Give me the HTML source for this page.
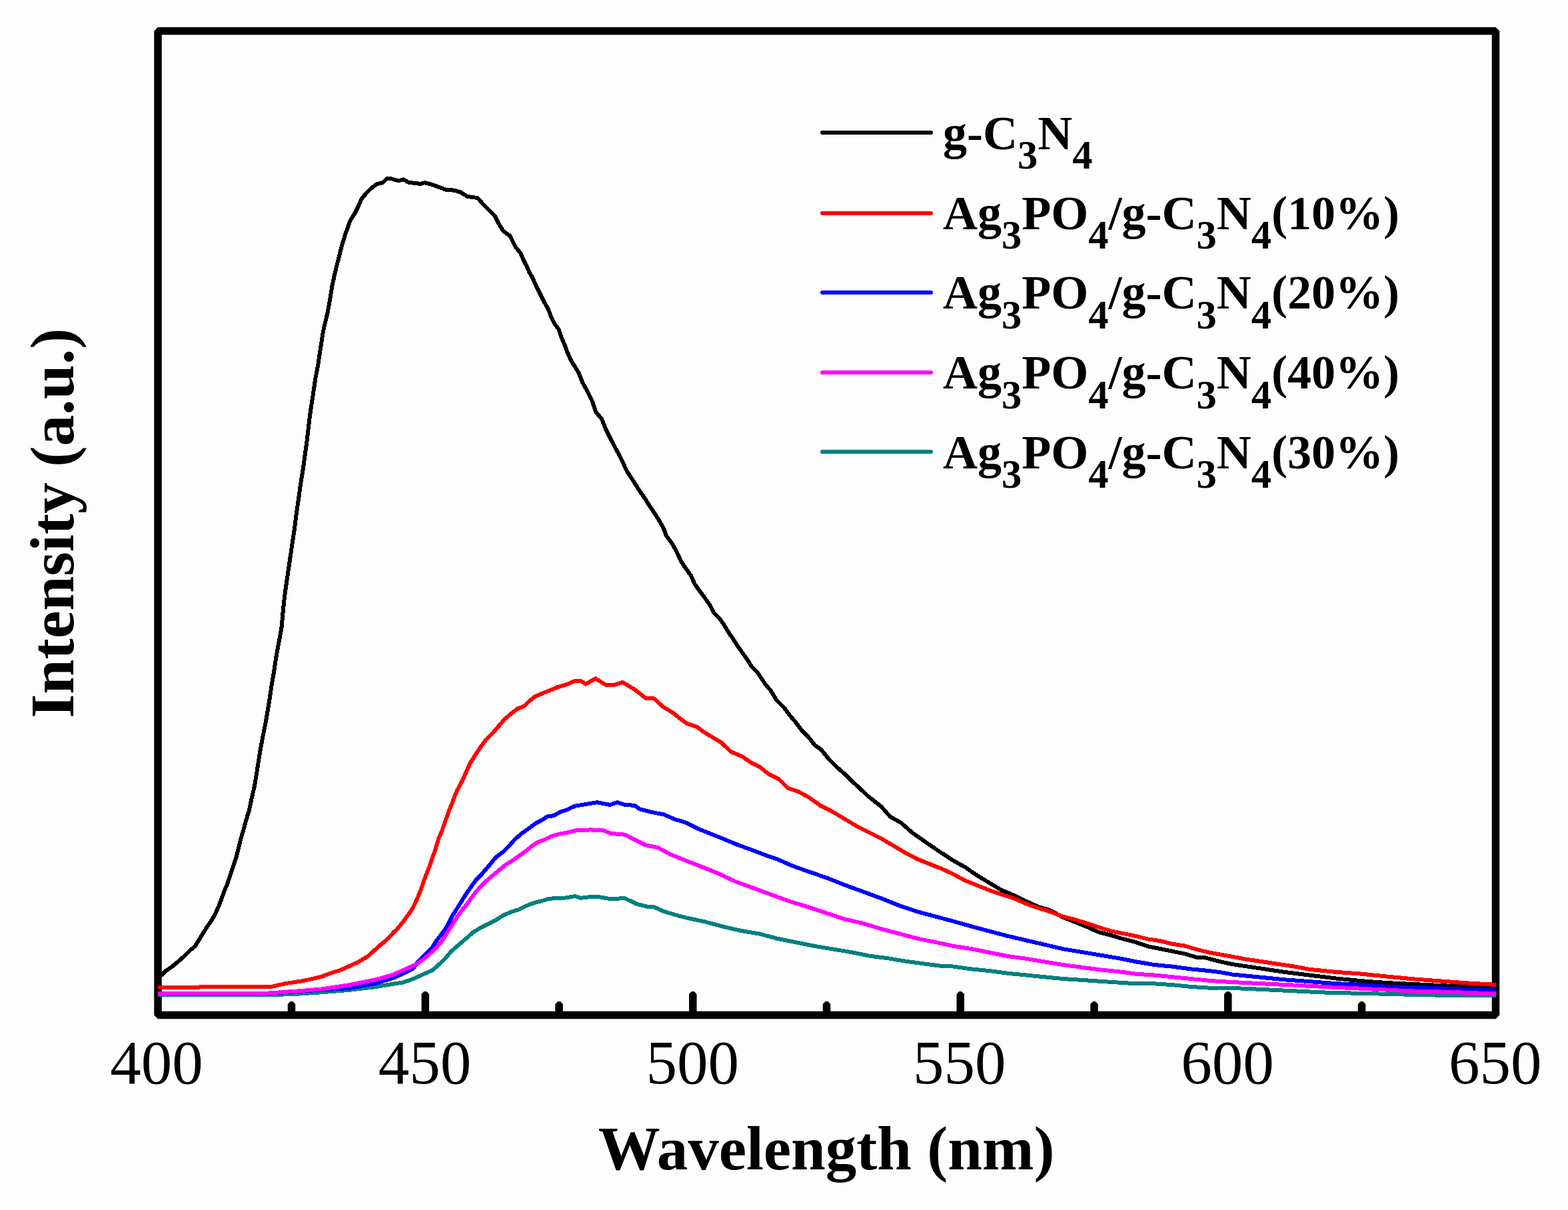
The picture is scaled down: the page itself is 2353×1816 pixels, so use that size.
<!DOCTYPE html>
<html><head><meta charset="utf-8"><title>PL spectra</title>
<style>
html,body{margin:0;padding:0;background:#fdfdfd;}
body{width:2353px;height:1816px;overflow:hidden;}
svg{display:block;}
text{font-family:"Liberation Serif","Times New Roman",serif;fill:#000;}
.b{font-weight:bold;}
</style></head><body>
<svg width="2353" height="1816" viewBox="0 0 2353 1816">
<rect x="0" y="0" width="2353" height="1816" fill="#fdfdfd"/>

<rect x="237" y="46.5" width="2007.5" height="1477" fill="none" stroke="#000" stroke-width="11.5" stroke-linejoin="bevel"/>
<g fill="#000"><polygon points="431.75,1520 431.75,1507 435.50,1503 439.50,1503 443.25,1507 443.25,1520"/><polygon points="632.50,1520 632.50,1492 636.25,1488 640.25,1488 644.00,1492 644.00,1520"/><polygon points="833.25,1520 833.25,1507 837.00,1503 841.00,1503 844.75,1507 844.75,1520"/><polygon points="1034.00,1520 1034.00,1492 1037.75,1488 1041.75,1488 1045.50,1492 1045.50,1520"/><polygon points="1234.75,1520 1234.75,1507 1238.50,1503 1242.50,1503 1246.25,1507 1246.25,1520"/><polygon points="1435.50,1520 1435.50,1492 1439.25,1488 1443.25,1488 1447.00,1492 1447.00,1520"/><polygon points="1636.25,1520 1636.25,1507 1640.00,1503 1644.00,1503 1647.75,1507 1647.75,1520"/><polygon points="1837.00,1520 1837.00,1492 1840.75,1488 1844.75,1488 1848.50,1492 1848.50,1520"/><polygon points="2037.75,1520 2037.75,1507 2041.50,1503 2045.50,1503 2049.25,1507 2049.25,1520"/></g>
<g fill="none" stroke-width="6" stroke-linejoin="round" stroke-linecap="butt" shape-rendering="crispEdges">
<polyline stroke="#000000" points="237.0,1467.0 243.3,1463.0 248.3,1457.5 257.5,1451.1 266.6,1443.8 275.8,1435.6 285.0,1426.4 292.8,1420.1 302.8,1403.6 309.9,1392.2 317.0,1382.2 322.7,1372.3 328.4,1359.4 332.7,1348.0 336.9,1336.6 341.2,1326.7 345.5,1313.9 349.7,1301.0 354.0,1288.2 357.6,1274.0 361.1,1259.7 365.4,1245.5 369.7,1229.8 374.0,1215.6 377.5,1198.5 381.9,1180.1 386.2,1153.6 389.8,1130.8 393.3,1110.9 396.2,1096.6 399.0,1082.4 401.9,1065.3 404.7,1048.2 407.6,1028.3 411.1,1008.4 414.0,988.4 417.6,968.5 421.1,950.0 422.7,940.1 424.8,916.5 426.9,896.5 429.8,875.2 432.6,856.6 435.5,836.7 437.6,822.5 439.7,808.2 441.9,794.0 444.0,776.9 446.2,761.2 448.3,747.0 450.0,734.2 451.9,721.4 454.7,704.3 457.7,682.2 460.5,662.2 462.7,643.7 464.8,625.2 466.9,611.0 469.1,596.7 471.2,582.5 473.3,568.2 475.5,556.8 477.6,545.4 479.7,531.2 481.9,517.0 484.0,502.7 486.2,491.3 488.5,482.0 491.3,470.7 494.9,450.8 498.4,429.4 502.0,412.3 505.5,398.1 508.4,386.7 511.2,375.3 514.8,362.5 518.4,351.1 521.9,341.1 525.5,331.2 531.9,321.2 537.6,309.8 542.6,298.4 549.7,289.9 556.8,282.8 565.4,276.3 573.9,274.2 581.0,267.8 588.1,268.5 598.1,271.4 605.2,269.2 613.8,274.2 625.2,274.9 630.0,276.3 637.1,274.2 648.5,277.1 659.9,281.3 669.8,284.9 681.2,285.6 691.2,288.5 701.2,294.9 716.8,297.0 725.4,307.0 733.9,315.5 742.5,324.1 748.2,335.4 755.3,346.8 765.3,354.0 773.8,371.0 781.0,379.6 786.6,392.4 790.7,400.0 794.2,408.5 799.9,418.5 804.9,429.9 810.6,441.3 816.3,452.7 822.7,464.1 827.0,475.5 832.7,486.9 838.4,494.0 842.7,506.8 847.6,518.2 851.2,528.2 856.9,541.0 863.3,551.0 868.5,560.0 874.2,574.2 881.4,587.1 888.5,601.3 894.2,618.4 902.7,628.4 908.4,642.6 915.5,656.8 922.7,671.1 928.4,681.0 934.0,692.4 939.7,705.3 946.9,716.6 952.6,725.2 959.7,736.6 966.8,746.6 974.0,758.0 982.5,770.8 988.5,780.0 995.7,792.8 999.9,804.2 1008.5,815.6 1015.6,828.4 1022.0,842.7 1029.8,854.0 1037.0,864.0 1042.7,876.8 1049.8,886.8 1058.3,898.2 1065.4,908.2 1071.1,919.6 1079.7,928.1 1086.8,938.1 1092.5,948.0 1099.6,958.0 1106.7,969.4 1113.9,979.4 1121.0,989.3 1128.1,1000.7 1136.7,1009.3 1148.5,1027.0 1157.1,1037.0 1165.6,1051.2 1177.0,1062.6 1185.5,1074.0 1194.1,1084.0 1202.6,1095.4 1212.6,1105.4 1222.6,1118.2 1232.5,1125.3 1243.9,1139.5 1255.3,1150.9 1266.7,1160.9 1278.1,1172.3 1289.5,1182.3 1300.9,1193.6 1304.7,1196.5 1323.0,1211.1 1335.9,1225.8 1352.3,1234.9 1368.8,1249.6 1387.1,1262.4 1405.5,1275.2 1430.0,1291.3 1448.3,1301.4 1466.6,1314.2 1484.9,1325.2 1503.3,1336.2 1521.6,1343.6 1539.9,1352.7 1558.2,1361.0 1576.5,1366.4 1594.8,1376.5 1613.2,1383.8 1631.5,1391.2 1649.8,1399.4 1668.1,1404.0 1686.4,1409.5 1704.7,1414.1 1723.0,1420.5 1741.4,1424.1 1759.7,1427.8 1778.0,1431.5 1796.3,1437.0 1807.3,1437.0 1830.0,1443.0 1849.2,1447.1 1887.7,1452.9 1926.2,1458.7 1964.6,1463.5 2003.1,1468.3 2041.5,1472.1 2080.0,1475.0 2118.5,1476.9 2156.9,1478.8 2195.4,1480.8 2245.0,1483.1"/>
<polyline stroke="#ff0000" points="237.0,1482.2 297.0,1482.2 300.0,1481.2 407.0,1481.0 427.5,1476.2 454.9,1472.1 482.4,1465.9 496.4,1460.5 509.9,1456.3 523.0,1450.5 537.4,1444.0 552.4,1434.9 558.9,1429.0 564.8,1423.6 570.8,1418.3 577.3,1413.0 583.2,1407.6 589.7,1400.5 596.3,1394.0 602.2,1386.9 608.1,1379.1 614.1,1370.8 618.8,1363.7 623.0,1355.4 627.1,1346.5 631.4,1335.4 634.4,1327.1 636.8,1320.0 639.7,1312.3 642.7,1304.6 645.7,1297.4 648.0,1290.3 650.4,1283.2 652.8,1276.7 654.6,1270.2 656.9,1263.0 658.7,1257.1 662.5,1249.0 665.5,1240.1 668.5,1231.2 672.0,1222.3 675.0,1213.4 678.6,1205.1 682.1,1195.6 685.7,1186.7 690.4,1177.8 694.6,1170.1 698.1,1161.8 705.6,1145.3 712.8,1133.9 721.3,1121.0 729.8,1109.7 739.8,1099.7 748.4,1089.7 756.9,1079.7 766.9,1071.2 776.8,1063.4 786.8,1059.8 793.9,1052.7 802.5,1045.6 812.4,1041.3 826.7,1035.6 836.6,1031.3 850.9,1027.1 862.6,1022.0 871.8,1022.0 879.1,1026.6 893.7,1018.3 908.4,1027.5 921.2,1028.4 934.0,1023.8 952.3,1034.8 968.8,1047.6 981.6,1048.5 994.5,1060.4 1010.9,1070.5 1020.4,1078.3 1030.9,1086.1 1046.5,1091.3 1057.0,1099.2 1070.0,1107.0 1083.0,1114.8 1096.1,1127.8 1114.4,1135.7 1127.4,1144.8 1140.4,1151.3 1153.5,1161.8 1169.1,1169.6 1182.2,1182.6 1197.8,1187.9 1213.5,1196.5 1231.5,1209.3 1249.8,1218.5 1268.1,1229.5 1286.4,1240.4 1304.7,1249.6 1323.0,1258.8 1341.4,1269.7 1359.7,1280.7 1378.0,1289.9 1396.3,1297.2 1414.6,1304.5 1430.0,1311.7 1448.3,1321.6 1466.6,1328.9 1484.9,1336.2 1503.3,1342.6 1521.6,1348.1 1539.9,1356.4 1558.2,1362.8 1576.5,1368.3 1594.8,1375.6 1613.2,1380.2 1631.5,1385.7 1649.8,1392.1 1668.1,1397.6 1686.4,1401.2 1704.7,1404.9 1723.0,1409.5 1741.4,1412.2 1759.7,1416.8 1778.0,1419.6 1796.3,1425.1 1814.6,1429.6 1830.0,1432.3 1868.5,1439.4 1906.9,1445.2 1945.4,1451.0 1964.6,1454.8 2003.1,1458.7 2041.5,1461.5 2080.0,1465.4 2118.5,1469.2 2156.9,1472.1 2195.4,1475.0 2245.0,1477.9"/>
<polyline stroke="#008080" points="237.0,1493.5 400.0,1493.3 441.2,1492.0 482.4,1489.3 523.6,1485.9 564.8,1481.0 590.0,1476.7 604.7,1474.5 619.3,1469.4 634.0,1462.8 648.6,1456.2 655.9,1450.3 663.3,1443.0 670.6,1435.7 677.1,1427.9 688.5,1417.9 698.5,1409.4 709.9,1399.4 721.3,1392.3 732.7,1386.6 744.1,1380.9 755.4,1373.7 766.8,1368.7 778.2,1365.2 789.6,1359.5 801.0,1355.2 812.4,1352.3 823.8,1348.8 835.2,1348.1 850.0,1347.4 862.6,1345.0 871.8,1347.8 886.4,1345.9 897.4,1345.9 915.7,1349.2 937.7,1348.1 956.0,1356.9 970.7,1360.6 981.6,1361.5 996.3,1367.9 1014.6,1373.4 1030.0,1377.5 1057.5,1383.3 1084.9,1390.6 1112.4,1397.0 1139.9,1401.6 1167.4,1408.9 1194.8,1414.4 1222.3,1419.9 1249.8,1424.5 1277.3,1429.1 1304.7,1434.6 1332.2,1438.2 1359.7,1442.8 1387.1,1446.5 1414.6,1450.1 1430.0,1450.5 1457.5,1454.4 1484.9,1457.1 1512.4,1460.8 1539.9,1463.5 1567.4,1466.3 1594.8,1469.0 1622.3,1470.8 1649.8,1472.7 1677.3,1474.5 1704.7,1476.3 1732.2,1476.3 1759.7,1478.2 1787.1,1480.9 1814.6,1482.7 1830.0,1482.5 1868.5,1483.7 1906.9,1485.6 1945.4,1487.5 1983.8,1489.4 2022.3,1490.4 2060.8,1491.3 2099.2,1492.3 2137.7,1493.3 2176.2,1493.8 2214.6,1494.2 2245.0,1494.2"/>
<polyline stroke="#0000ff" points="237.0,1491.5 400.0,1491.0 441.0,1488.5 482.4,1485.5 523.6,1483.1 564.8,1475.5 590.0,1467.9 604.7,1461.3 619.3,1454.0 623.0,1449.5 626.6,1443.8 634.0,1437.1 641.3,1429.8 648.6,1421.8 655.9,1410.8 663.3,1401.2 671.4,1389.4 678.5,1375.1 685.7,1363.7 692.8,1352.3 699.9,1341.0 707.0,1331.0 714.1,1321.0 721.3,1313.9 729.8,1303.9 736.9,1295.4 744.1,1286.8 755.4,1278.3 764.0,1269.7 772.5,1259.8 782.5,1251.2 792.5,1244.1 803.9,1235.6 812.4,1231.3 821.0,1225.6 830.9,1224.2 840.9,1218.5 850.0,1215.6 862.6,1209.7 879.1,1207.0 895.6,1204.2 915.7,1207.9 926.7,1204.2 937.7,1207.9 952.3,1208.8 959.7,1214.3 978.0,1218.9 996.3,1222.5 1010.9,1228.9 1030.0,1235.0 1048.3,1244.1 1066.6,1251.4 1084.9,1258.8 1106.9,1267.9 1127.1,1275.2 1149.0,1283.5 1167.4,1289.9 1185.7,1298.1 1213.2,1308.2 1240.6,1317.4 1268.1,1328.4 1295.6,1338.4 1323.0,1348.5 1350.5,1359.5 1378.0,1368.6 1405.5,1376.0 1430.0,1382.5 1457.5,1390.3 1484.9,1397.6 1512.4,1404.9 1539.9,1411.3 1567.4,1417.7 1594.8,1424.1 1622.3,1428.7 1649.8,1433.3 1677.3,1437.9 1704.7,1443.4 1732.2,1448.0 1759.7,1450.7 1787.1,1454.4 1814.6,1457.1 1830.0,1459.0 1849.2,1462.5 1887.7,1466.3 1926.2,1470.2 1964.6,1473.1 2003.1,1476.0 2041.5,1477.9 2080.0,1480.8 2118.5,1481.7 2156.9,1483.1 2195.4,1484.6 2245.0,1486.2"/>
<polyline stroke="#ff00ff" points="237.0,1491.0 400.0,1490.7 441.2,1487.9 482.4,1484.5 523.6,1478.3 564.8,1470.1 590.0,1462.8 604.7,1456.2 619.3,1449.6 626.6,1445.9 634.0,1440.8 641.3,1434.9 648.6,1428.4 655.9,1421.0 663.3,1412.2 671.4,1399.3 678.5,1388.0 685.7,1376.6 692.8,1366.6 699.9,1358.0 707.0,1348.1 715.6,1336.7 724.1,1328.1 732.7,1319.6 741.2,1312.5 749.7,1305.3 758.3,1298.2 769.7,1291.1 779.7,1284.0 789.6,1276.9 798.2,1269.7 806.7,1264.1 818.1,1259.8 826.6,1255.5 838.0,1251.9 850.0,1249.8 864.4,1246.3 886.4,1245.4 904.7,1246.3 917.5,1250.9 937.7,1252.7 950.5,1259.2 968.8,1268.3 987.1,1272.0 1005.5,1282.0 1030.0,1292.0 1048.3,1299.0 1075.8,1310.0 1103.3,1322.9 1130.7,1332.9 1158.2,1343.0 1185.7,1353.1 1213.2,1361.3 1240.6,1370.5 1268.1,1379.6 1295.6,1386.0 1323.0,1394.3 1350.5,1401.6 1378.0,1408.9 1405.5,1414.4 1430.0,1419.7 1457.5,1424.1 1484.9,1429.6 1512.4,1435.1 1539.9,1438.8 1567.4,1443.4 1594.8,1448.0 1622.3,1451.6 1649.8,1455.3 1677.3,1458.0 1704.7,1461.7 1732.2,1463.5 1759.7,1466.3 1787.1,1469.0 1814.6,1471.8 1830.0,1473.0 1868.5,1475.0 1906.9,1476.9 1945.4,1478.8 1983.8,1480.8 2022.3,1482.7 2060.8,1484.6 2099.2,1486.5 2137.7,1488.1 2176.2,1488.8 2214.6,1490.4 2245.0,1491.3"/>
</g>
<text x="234.9" y="1625.6" font-size="93" text-anchor="middle">400</text>
<text x="637.5" y="1625.6" font-size="93" text-anchor="middle">450</text>
<text x="1039.2" y="1625.6" font-size="93" text-anchor="middle">500</text>
<text x="1439.8" y="1625.6" font-size="93" text-anchor="middle">550</text>
<text x="1841.9" y="1625.6" font-size="93" text-anchor="middle">600</text>
<text x="2243.7" y="1625.6" font-size="93" text-anchor="middle">650</text>
<text class="b" x="1240.1" y="1755.2" font-size="93" text-anchor="middle">Wavelength (nm)</text>
<text class="b" transform="translate(110.3,785.3) rotate(-90)" x="0" y="0" font-size="93.7" text-anchor="middle">Intensity (a.u.)</text>
<line x1="1234" y1="199" x2="1397" y2="199" stroke="#000000" stroke-width="6" stroke-linecap="round"/>
<text class="b" x="1415" y="223.7" font-size="72">g-C<tspan font-size="60.5" dy="29.5">3</tspan><tspan dy="-29.5">N</tspan><tspan font-size="60.5" dy="29.5">4</tspan></text>
<line x1="1234" y1="320" x2="1397" y2="320" stroke="#ff0000" stroke-width="6" stroke-linecap="round"/>
<text class="b" x="1415" y="343.5" font-size="72">Ag<tspan font-size="60.5" dy="29.5">3</tspan><tspan dy="-29.5">PO</tspan><tspan font-size="60.5" dy="29.5">4</tspan><tspan dy="-29.5">/g-C</tspan><tspan font-size="60.5" dy="29.5">3</tspan><tspan dy="-29.5">N</tspan><tspan font-size="60.5" dy="29.5">4</tspan><tspan dy="-29.5">(10%)</tspan></text>
<line x1="1234" y1="439" x2="1397" y2="439" stroke="#0000ff" stroke-width="6" stroke-linecap="round"/>
<text class="b" x="1415" y="463.29999999999995" font-size="72">Ag<tspan font-size="60.5" dy="29.5">3</tspan><tspan dy="-29.5">PO</tspan><tspan font-size="60.5" dy="29.5">4</tspan><tspan dy="-29.5">/g-C</tspan><tspan font-size="60.5" dy="29.5">3</tspan><tspan dy="-29.5">N</tspan><tspan font-size="60.5" dy="29.5">4</tspan><tspan dy="-29.5">(20%)</tspan></text>
<line x1="1234" y1="559" x2="1397" y2="559" stroke="#ff00ff" stroke-width="6" stroke-linecap="round"/>
<text class="b" x="1415" y="583.0999999999999" font-size="72">Ag<tspan font-size="60.5" dy="29.5">3</tspan><tspan dy="-29.5">PO</tspan><tspan font-size="60.5" dy="29.5">4</tspan><tspan dy="-29.5">/g-C</tspan><tspan font-size="60.5" dy="29.5">3</tspan><tspan dy="-29.5">N</tspan><tspan font-size="60.5" dy="29.5">4</tspan><tspan dy="-29.5">(40%)</tspan></text>
<line x1="1234" y1="678" x2="1397" y2="678" stroke="#008080" stroke-width="6" stroke-linecap="round"/>
<text class="b" x="1415" y="702.9" font-size="72">Ag<tspan font-size="60.5" dy="29.5">3</tspan><tspan dy="-29.5">PO</tspan><tspan font-size="60.5" dy="29.5">4</tspan><tspan dy="-29.5">/g-C</tspan><tspan font-size="60.5" dy="29.5">3</tspan><tspan dy="-29.5">N</tspan><tspan font-size="60.5" dy="29.5">4</tspan><tspan dy="-29.5">(30%)</tspan></text>
</svg>
</body></html>
